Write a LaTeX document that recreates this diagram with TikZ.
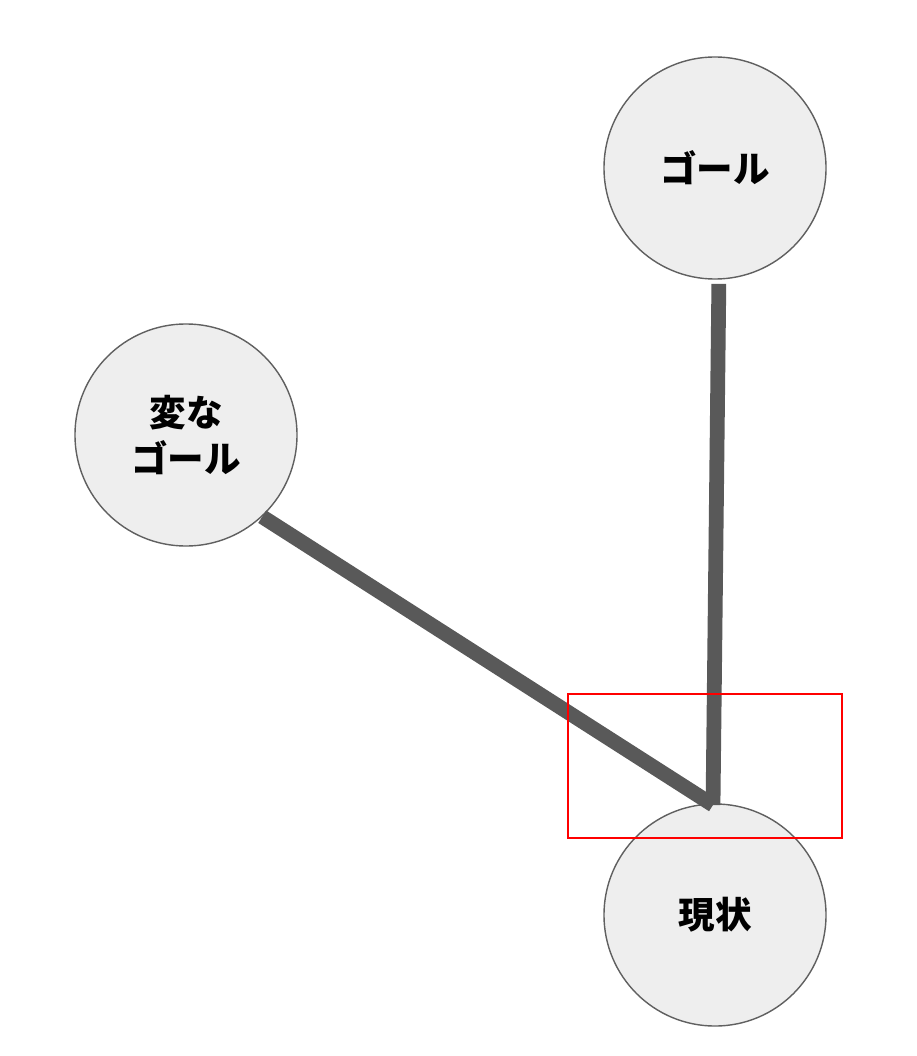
\documentclass[tikz,border=0pt]{standalone}
\usepackage{fontspec}
\newfontfamily\jpfont{Noto Sans CJK JP}
\usetikzlibrary{positioning}
\definecolor{nodefill}{RGB}{238,238,238}
\definecolor{nodeline}{RGB}{96,96,96}
\definecolor{linkgrey}{RGB}{89,89,89}
\definecolor{markred}{RGB}{255,0,0}
\tikzset{
  goalnode/.style={circle,draw=nodeline,fill=nodefill,line width=1pt,
    minimum size=5.55cm,inner sep=0pt,align=center,
    font=\jpfont\bfseries\fontsize{26}{33}\selectfont},
  linkline/.style={draw=linkgrey,line width=10.5pt},
  markbox/.style={draw=markred,line width=1pt},
}

\begin{document}
\begin{tikzpicture}[x=0.025cm,y=-0.025cm]
  \useasboundingbox (0,0) rectangle (916,1056);
  % the three circles
  \node[goalnode] (goal) at (715,168) {ゴール};
  \node[goalnode] (oddgoal) at (186,435) {変な\\ゴール};
  \node[goalnode] (now) at (715,915) {現状};
  % links
  \coordinate (meet) at (713,805);
  \draw[linkline,shorten <=3pt] (goal.-88) -- (meet);
  \draw[linkline] (oddgoal.-47) -- (meet);
  \draw[markbox] (568,694) rectangle (842,838);
\end{tikzpicture}
\end{document}
